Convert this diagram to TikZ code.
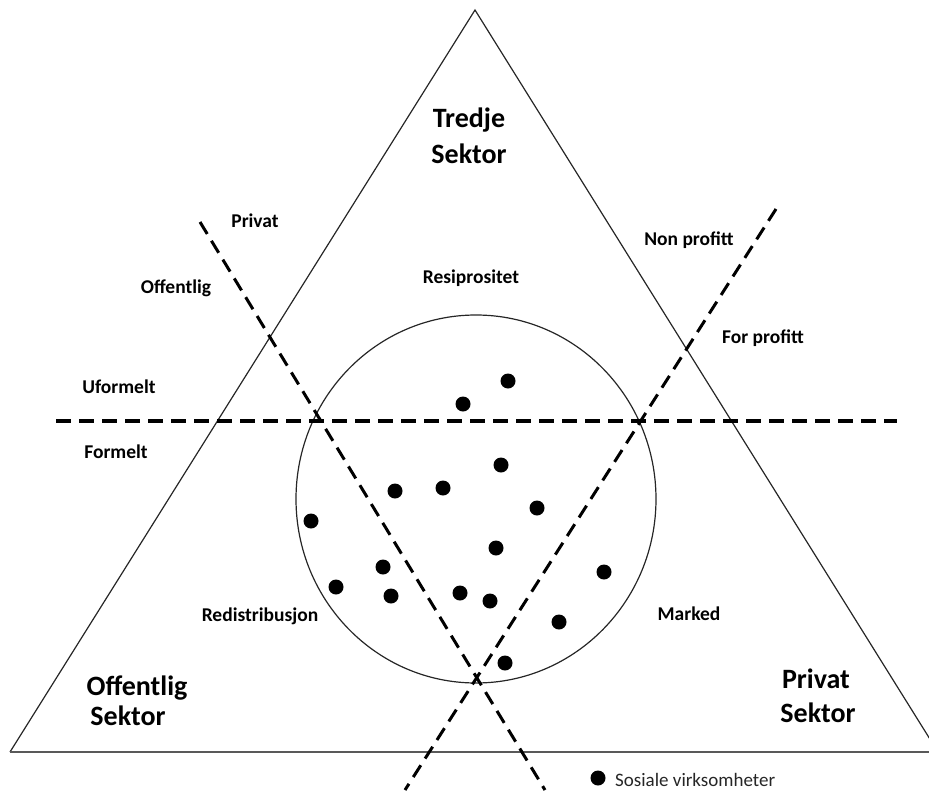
\documentclass[tikz,border=0pt]{standalone}
\usepackage{fontspec}
\setmainfont{Carlito}
\begin{document}
\begin{tikzpicture}[x=1pt,y=-1pt,
  tri/.style={draw=black!85,line width=1.2pt},
  divline/.style={line width=3pt,dash pattern=on 14pt off 8pt},
  hline/.style={line width=4.5pt,dash pattern=on 15pt off 8pt},
  small/.style={font=\bfseries\fontsize{19.5}{21}\selectfont,anchor=base,inner sep=0pt},
  big/.style={font=\bfseries\fontsize{28}{30}\selectfont,anchor=base,inner sep=0pt},
  dot/.style={circle,fill=black,minimum size=15pt,inner sep=0pt}]
\useasboundingbox (0,0) rectangle (929,790);
% triangle
\coordinate (apex) at (475,10);
\coordinate (bl) at (10,752);
\coordinate (br) at (938,752);
\draw[tri] (bl) -- (apex) -- (br);
\draw[draw=black!65,line width=2.2pt] (bl) -- (br);
% circle
\draw[draw=black!85,line width=1.2pt] (476,499) ellipse [x radius=180, y radius=184];
% dashed dividers
\coordinate (l1) at (200,222); \coordinate (l2) at (545,790);
\coordinate (r1) at (776,209); \coordinate (r2) at (405,790);
\coordinate (h1) at (56,421);  \coordinate (h2) at (897,421);
\draw[divline] (l1) -- (l2);
\draw[divline] (r1) -- (r2);
\draw[hline] (h1) -- (h2);
% dots
\foreach \n/\p in {1/{(508,381)},2/{(463,404)},3/{(501,465)},4/{(395,491)},5/{(443,488)},6/{(537,508)},7/{(311,521)},8/{(496,548)},9/{(383,567)},10/{(604,572)},11/{(336,587)},12/{(391,596)},13/{(460,593)},14/{(490,601)},15/{(559,622)},16/{(505,663)}}
  \node[dot] (d\n) at \p {};
% labels
\node[big] (tredje) at (469,127) {Tredje};
\node[big] (tredjes) at (469,163) {Sektor};
\node[big] (offl) at (137,695) {Offentlig};
\node[big] (offs) at (128,725) {Sektor};
\node[big] (priv) at (816,688) {Privat};
\node[big] (privs) at (818,722) {Sektor};
\node[small] (privat) at (255,227) {Privat};
\node[small] (offentlig) at (176,293) {Offentlig};
\node[small] (resi) at (471,283) {Resiprositet};
\node[small] (nonp) at (689,245) {Non profitt};
\node[small] (forp) at (763,343) {For profitt};
\node[small] (ufor) at (119,393) {Uformelt};
\node[small] (form) at (116,458) {Formelt};
\node[small] (redi) at (260,621) {Redistribusjon};
\node[small] (mark) at (689,620) {Marked};
% legend
\node[dot] (ldot) at (598,778) {};
\node[anchor=base west,inner sep=0pt,font=\fontsize{19}{21}\selectfont,text=black!85] (ltext) at (615,786) {Sosiale virksomheter};
\end{tikzpicture}
\end{document}
